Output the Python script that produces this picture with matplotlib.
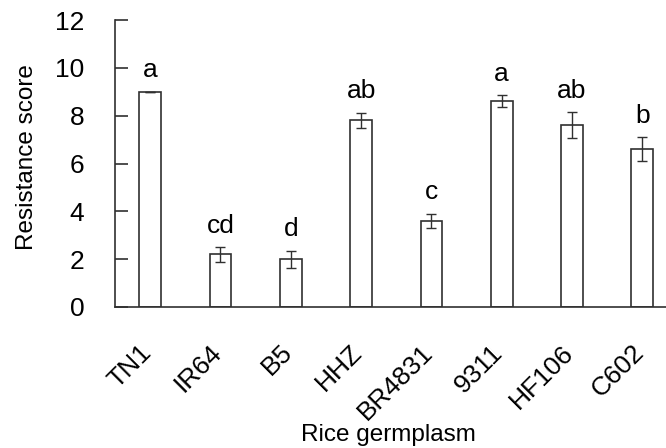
import matplotlib
matplotlib.use("Agg")
import matplotlib.pyplot as plt
import matplotlib.transforms as mtransforms
import numpy as np

categories = ["TN1", "IR64", "B5", "HHZ", "BR4831", "9311", "HF106", "C602"]
scores = [9.0, 2.2, 2.0, 7.8, 3.6, 8.6, 7.6, 6.6]
errors = [0.0, 0.3, 0.35, 0.32, 0.3, 0.25, 0.55, 0.5]
letters = ["a", "cd", "d", "ab", "c", "a", "ab", "b"]
yticks = [0, 2, 4, 6, 8, 10, 12]

plt.rcParams['font.family'] = ['Liberation Sans', 'DejaVu Sans']
edge = '#303030'

fig = plt.figure(figsize=(6.66, 4.48), dpi=100)
ax = fig.add_axes([115/666, 141/448, 562.5/666, 287/448])

x = np.arange(len(categories))
ax.bar(x, scores, width=0.31, color='white', edgecolor=edge, linewidth=1.2, zorder=2)
ax.errorbar(x, scores, yerr=errors, fmt='none', ecolor=edge, elinewidth=1.0,
            capsize=3.5, capthick=1.0, zorder=3)
for xi, s, e, l in zip(x, scores, errors, letters):
    ax.text(xi, s + e + 0.4, l, ha='center', va='bottom', fontsize=19, color='black')

ax.set_xlim(-0.5, len(categories) - 0.5)
ax.set_ylim(0, 12)
ax.set_yticks(yticks)
ax.set_xticks(x)
ax.set_xticklabels(categories, rotation=45, ha='right', rotation_mode='anchor', fontsize=19)
ax.tick_params(axis='x', length=0, pad=24)
ax.tick_params(axis='y', direction='in', length=9, width=1.2, color=edge, labelsize=19, pad=22)
offset = mtransforms.ScaledTranslation(-11/100, 0, fig.dpi_scale_trans)
for lab in ax.get_xticklabels():
    lab.set_transform(lab.get_transform() + offset)

for side in ['top', 'right']:
    ax.spines[side].set_visible(False)
for side in ['left', 'bottom']:
    ax.spines[side].set_color(edge)
    ax.spines[side].set_linewidth(1.2)

ax.set_ylabel("Resistance score", fontsize=17.5)
ax.set_xlabel("Rice germplasm", fontsize=17.5)
ax.yaxis.set_label_coords(-0.137, 0.524)
ax.xaxis.set_label_coords(0.486, -0.408)

fig.savefig("out.png", dpi=100)
